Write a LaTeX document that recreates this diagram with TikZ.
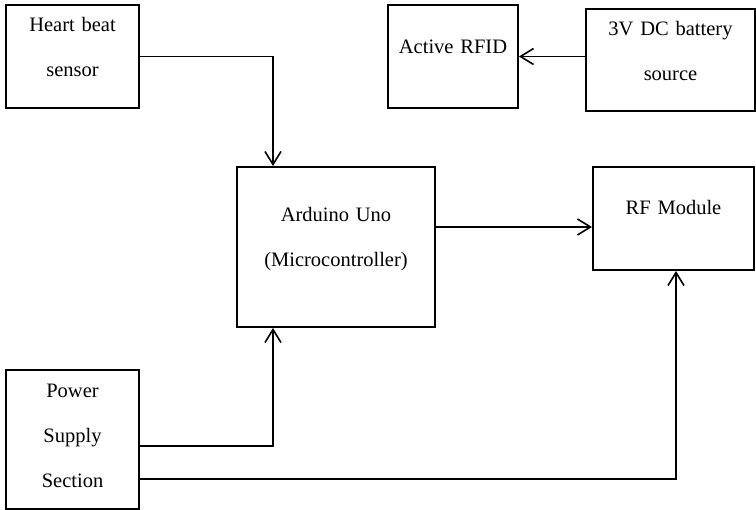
\documentclass[tikz,border=0pt]{standalone}
\usepackage{fontspec}
\setmainfont{Liberation Serif}
\usetikzlibrary{arrows.meta}
\tikzset{
  blk/.style n args={3}{draw, line width=2pt, inner sep=0pt, anchor=north west,
    text width=#1, text height=#2, text depth=#3, align=center,
    font={\fontsize{20.5}{45}\selectfont}},
  arr/.style={line width=1.6pt, -{Straight Barb[length=13pt,width=16pt,line width=1.6pt]}}
}
\begin{document}
\begin{tikzpicture}[x=1pt,y=-1pt]
    \useasboundingbox (0,0) rectangle (756,510);
    \node[blk={133pt}{27pt}{76pt}] (hb) at (5,4) {Heart beat\\sensor};
    \node[blk={130pt}{49pt}{54pt}] (rfid) at (387,4) {Active RFID};
    \node[blk={169pt}{27pt}{75pt}] (batt) at (585,8) {3V DC battery\\source};
    \node[blk={198pt}{55pt}{105pt}] (ard) at (236,166) {Arduino Uno\\(Microcontroller)};
    \node[blk={161pt}{48pt}{55pt}] (rf) at (592,166) {RF Module};
    \node[blk={133pt}{28pt}{111pt}] (pss) at (5,369) {Power\\Supply\\Section};
    \coordinate (ps1) at ([yshift=-6.5pt]pss.east);
    \coordinate (ps2) at ([yshift=-39.5pt]pss.east);
    \coordinate (ao) at ([yshift=20pt]ard.east);
    \draw[arr] (hb.east) -| ([xshift=37pt]ard.north west);
    \draw[arr] (rfid.east -| batt.west) -- (rfid.east);
    \draw[arr] (ao) -- (ao -| rf.west);
    \draw[arr] (ps1) -| ([xshift=37pt]ard.south west);
    \draw[arr] (ps2) -| ([xshift=84pt]rf.south west);
  \end{tikzpicture}
\end{document}
